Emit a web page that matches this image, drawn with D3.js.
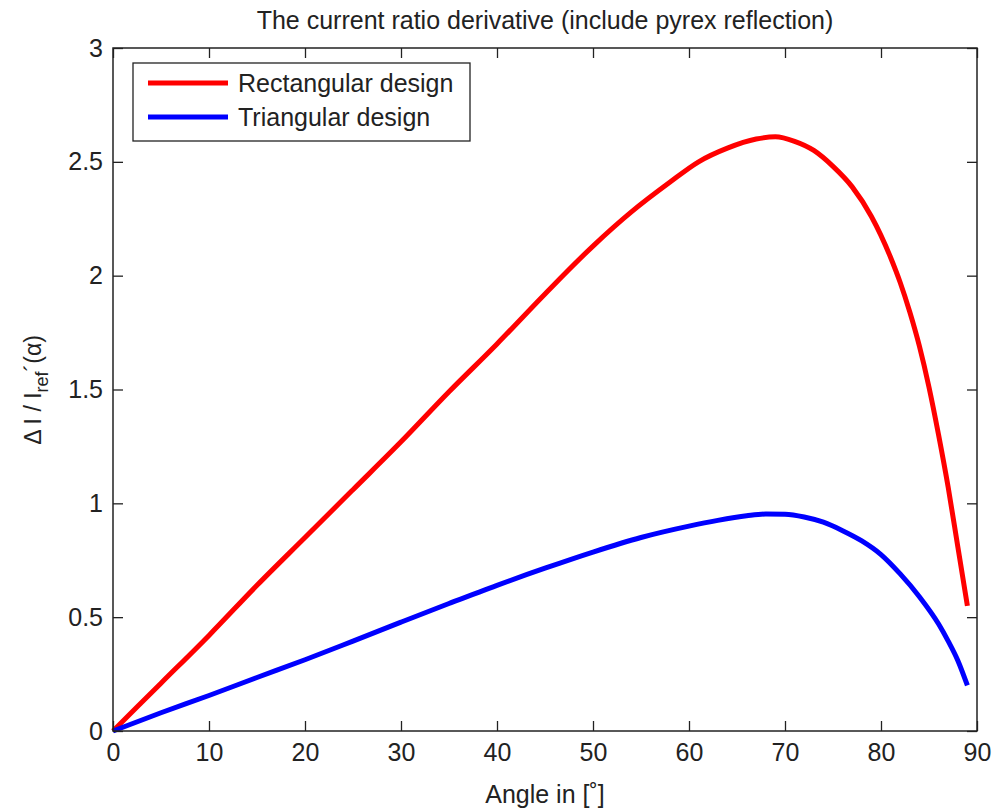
<!DOCTYPE html>
<html>
<head>
<meta charset="utf-8">
<script src="https://cdn.jsdelivr.net/npm/d3@7"></script>
<style>
  body { margin: 0; background: #fff; }
  text { font-family: "Liberation Sans", Arial, sans-serif; fill: #222; }
</style>
</head>
<body>
<script>
// angles (deg) and the two current ratio derivative curves
var rectAngle = [0, 5, 10, 15, 20, 25, 30, 35, 40, 45, 50, 54, 58, 61, 64, 67, 69, 71, 73, 75, 77, 79, 81, 82, 83, 84, 85, 86, 87, 88, 89]
var rectValue = [0, 0.21, 0.42, 0.64, 0.85, 1.06, 1.27, 1.49, 1.70, 1.92, 2.13, 2.28, 2.41, 2.50, 2.56, 2.60, 2.61, 2.59, 2.55, 2.48, 2.39, 2.26, 2.08, 1.97, 1.84, 1.69, 1.51, 1.30, 1.07, 0.81, 0.55]
var triAngle = [0, 5, 10, 15, 20, 25, 30, 35, 40, 45, 50, 55, 60, 63, 66, 68, 70, 72, 74, 76, 78, 80, 82, 84, 86, 87, 88, 89]
var triValue = [0, 0.08, 0.156, 0.235, 0.313, 0.395, 0.478, 0.56, 0.64, 0.715, 0.786, 0.85, 0.90, 0.925, 0.945, 0.953, 0.952, 0.94, 0.917, 0.88, 0.835, 0.775, 0.69, 0.59, 0.47, 0.395, 0.31, 0.20]

var xTicks = [0, 10, 20, 30, 40, 50, 60, 70, 80, 90]
var yTicks = [0, 0.5, 1, 1.5, 2, 2.5, 3]
var seriesNames = ['Rectangular design', 'Triangular design']
var seriesColors = ['#ff0000', '#0000ff']

var margin = { top: 48, right: 17, bottom: 81, left: 113 },
    width = 994 - margin.left - margin.right,
    height = 812 - margin.top - margin.bottom

var x = d3.scaleLinear().domain([0, 90]).range([0, width])
var y = d3.scaleLinear().domain([0, 3]).range([height, 0])

var svg = d3.select('body').append('svg')
    .attr('width', 994)
    .attr('height', 812)

var g = svg.append('g')
    .attr('transform', 'translate(' + margin.left + ',' + margin.top + ')')

var series = [
    rectAngle.map((a, i) => ({ a: a, v: rectValue[i] })),
    triAngle.map((a, i) => ({ a: a, v: triValue[i] }))
]

var line = d3.line()
    .x(d => x(d.a))
    .y(d => y(d.v))
    .curve(d3.curveMonotoneX)

// curves
series.forEach((s, i) => {
    g.append('path')
        .datum(s)
        .attr('fill', 'none')
        .attr('stroke', seriesColors[i])
        .attr('stroke-width', 5)
        .attr('d', line)
})

// axes, matlab style: ticks inward on all four sides
var tickStyle = sel => {
    sel.select('.domain').remove()
    sel.selectAll('line').attr('stroke', '#222').attr('stroke-width', 1.3)
    sel.selectAll('text').attr('font-size', 25).attr('fill', '#222')
}

g.append('g')
    .attr('transform', 'translate(0,' + height + ')')
    .call(d3.axisBottom(x).tickValues(xTicks).tickSizeInner(-10).tickPadding(12).tickFormat(d3.format('d')))
    .call(tickStyle)

g.append('g')
    .call(d3.axisTop(x).tickValues(xTicks).tickSizeInner(-10).tickFormat(''))
    .call(tickStyle)

g.append('g')
    .call(d3.axisLeft(y).tickValues(yTicks).tickSizeInner(-10).tickPadding(10).tickFormat(d => d))
    .call(tickStyle)

g.append('g')
    .attr('transform', 'translate(' + width + ',0)')
    .call(d3.axisRight(y).tickValues(yTicks).tickSizeInner(-10).tickFormat(''))
    .call(tickStyle)

g.append('rect')
    .attr('width', width)
    .attr('height', height)
    .attr('fill', 'none')
    .attr('stroke', '#222')
    .attr('stroke-width', 1.5)

// title
g.append('text')
    .attr('x', width / 2)
    .attr('y', -19)
    .attr('text-anchor', 'middle')
    .attr('font-size', 25)
    .text('The current ratio derivative (include pyrex reflection)')

// x label
g.append('text')
    .attr('x', width / 2)
    .attr('y', height + 72)
    .attr('text-anchor', 'middle')
    .attr('font-size', 25)
    .text('Angle in [˚]')

// y label
var yl = svg.append('text')
    .attr('transform', 'translate(41,390) rotate(-90)')
    .attr('text-anchor', 'middle')
    .attr('font-size', 23)
yl.append('tspan').text('Δ I / I')
yl.append('tspan').attr('dy', 7).attr('font-size', 18).text('ref')
yl.append('tspan').attr('dy', -7).text('´(α)')

// legend
var leg = g.append('g').attr('transform', 'translate(20,15)')
leg.append('rect')
    .attr('width', 337)
    .attr('height', 78)
    .attr('fill', '#fff')
    .attr('stroke', '#222')
    .attr('stroke-width', 1.3)
seriesNames.forEach((n, i) => {
    leg.append('line')
        .attr('x1', 15).attr('x2', 95)
        .attr('y1', 20 + i * 34).attr('y2', 20 + i * 34)
        .attr('stroke', seriesColors[i])
        .attr('stroke-width', 5)
    leg.append('text')
        .attr('x', 105)
        .attr('y', 29 + i * 34)
        .attr('font-size', 25)
        .text(n)
})
</script>
</body>
</html>
